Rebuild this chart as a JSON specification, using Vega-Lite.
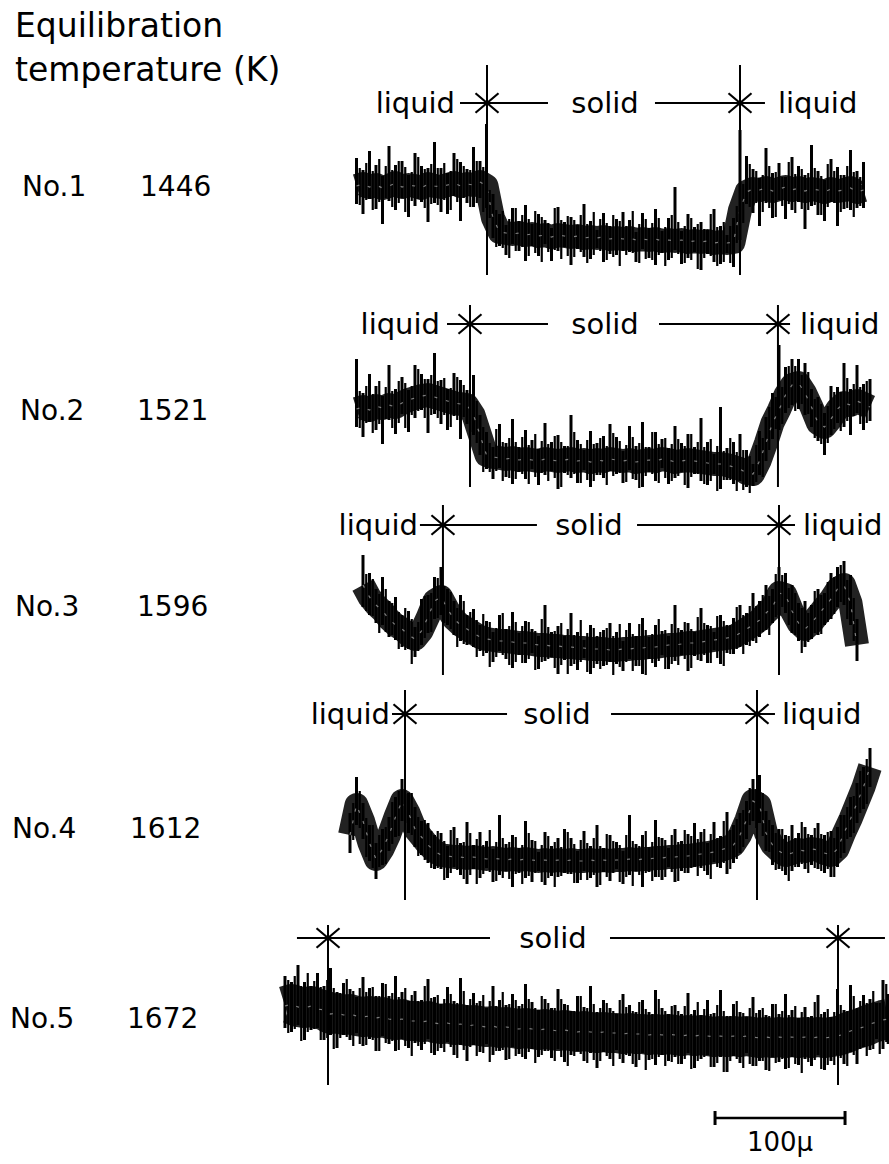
{
  "$schema": "https://vega.github.io/schema/vega-lite/v6.json",
  "background": "white",
  "padding": 0,
  "spacing": 0,
  "bounds": "flush",
  "config": {
    "view": {"stroke": null},
    "axis": {"disable": true},
    "text": {"font": "DejaVu Sans", "color": "#000"}
  },
  "datasets": {
    "samples": [
      {"sample": "No.1", "temp": 1446, "left": 155.4, "right": 350.0},
      {"sample": "No.2", "temp": 1521, "left": 142.3, "right": 379.2},
      {"sample": "No.3", "temp": 1596, "left": 121.5, "right": 380.0},
      {"sample": "No.4", "temp": 1612, "left": 92.3, "right": 363.1},
      {"sample": "No.5", "temp": 1672, "left": 33.1, "right": 425.4}
    ],
    "t1": [
      {"pos":55,"mid":104,"lo":86,"hi":132},{"pos":60,"mid":106,"lo":76,"hi":120},{"pos":65,"mid":103,"lo":91,"hi":139},{"pos":70,"mid":105,"lo":81,"hi":125},
      {"pos":75,"mid":102,"lo":66,"hi":114},{"pos":80,"mid":104,"lo":89,"hi":144},{"pos":85,"mid":107,"lo":80,"hi":125},{"pos":90,"mid":103,"lo":92,"hi":129},
      {"pos":95,"mid":105,"lo":73,"hi":115},{"pos":100,"mid":104,"lo":84,"hi":137},{"pos":105,"mid":102,"lo":88,"hi":124},{"pos":110,"mid":106,"lo":68,"hi":122},
      {"pos":115,"mid":104,"lo":87,"hi":148},{"pos":120,"mid":103,"lo":78,"hi":122},{"pos":125,"mid":105,"lo":76,"hi":117},{"pos":130,"mid":107,"lo":94,"hi":137},
      {"pos":135,"mid":104,"lo":69,"hi":128},{"pos":140,"mid":106,"lo":87,"hi":121},{"pos":145,"mid":105,"lo":83,"hi":143},{"pos":150,"mid":108,"lo":92,"hi":129},
      {"pos":155,"mid":104,"lo":82,"hi":166},{"pos":160,"mid":72,"lo":52,"hi":96},{"pos":165,"mid":58,"lo":44,"hi":76},{"pos":170,"mid":57,"lo":35,"hi":65},
      {"pos":175,"mid":56,"lo":46,"hi":82},{"pos":180,"mid":57,"lo":39,"hi":69},{"pos":185,"mid":55,"lo":29,"hi":85},{"pos":190,"mid":56,"lo":44,"hi":66},
      {"pos":195,"mid":54,"lo":34,"hi":76},{"pos":200,"mid":55,"lo":46,"hi":70},{"pos":205,"mid":53,"lo":29,"hi":62},{"pos":210,"mid":55,"lo":39,"hi":83},
      {"pos":215,"mid":54,"lo":43,"hi":68},{"pos":220,"mid":53,"lo":25,"hi":73},{"pos":225,"mid":54,"lo":41,"hi":65},{"pos":230,"mid":52,"lo":33,"hi":86},
      {"pos":235,"mid":53,"lo":31,"hi":69},{"pos":240,"mid":52,"lo":42,"hi":60},{"pos":245,"mid":53,"lo":28,"hi":77},{"pos":250,"mid":51,"lo":36,"hi":64},
      {"pos":255,"mid":52,"lo":35,"hi":71},{"pos":260,"mid":51,"lo":39,"hi":78},{"pos":265,"mid":52,"lo":38,"hi":70},{"pos":270,"mid":50,"lo":28,"hi":58},
      {"pos":275,"mid":51,"lo":41,"hi":77},{"pos":280,"mid":50,"lo":32,"hi":62},{"pos":285,"mid":51,"lo":25,"hi":81},{"pos":290,"mid":49,"lo":37,"hi":59},
      {"pos":295,"mid":50,"lo":30,"hi":72},{"pos":300,"mid":49,"lo":40,"hi":103},{"pos":305,"mid":50,"lo":26,"hi":59},{"pos":310,"mid":48,"lo":32,"hi":76},
      {"pos":315,"mid":49,"lo":38,"hi":63},{"pos":320,"mid":48,"lo":20,"hi":68},{"pos":325,"mid":49,"lo":36,"hi":60},{"pos":330,"mid":47,"lo":28,"hi":81},
      {"pos":335,"mid":48,"lo":26,"hi":64},{"pos":340,"mid":47,"lo":37,"hi":55},{"pos":345,"mid":48,"lo":23,"hi":72},{"pos":350,"mid":80,"lo":50,"hi":160},
      {"pos":355,"mid":98,"lo":86,"hi":134},{"pos":360,"mid":101,"lo":77,"hi":121},{"pos":365,"mid":100,"lo":64,"hi":112},{"pos":370,"mid":102,"lo":87,"hi":142},
      {"pos":375,"mid":99,"lo":72,"hi":117},{"pos":380,"mid":101,"lo":90,"hi":127},{"pos":385,"mid":103,"lo":71,"hi":113},{"pos":390,"mid":100,"lo":80,"hi":133},
      {"pos":395,"mid":102,"lo":88,"hi":124},{"pos":400,"mid":99,"lo":61,"hi":115},{"pos":405,"mid":101,"lo":84,"hi":145},{"pos":410,"mid":100,"lo":75,"hi":119},
      {"pos":415,"mid":98,"lo":69,"hi":110},{"pos":420,"mid":101,"lo":88,"hi":131},{"pos":425,"mid":99,"lo":64,"hi":123},{"pos":430,"mid":100,"lo":81,"hi":115},
      {"pos":435,"mid":102,"lo":80,"hi":140},{"pos":440,"mid":98,"lo":82,"hi":119},{"pos":445,"mid":100,"lo":82,"hi":128}
    ],
    "f1": [
      {"pos":57.5,"lo":85,"hi":122},{"pos":62.5,"lo":90,"hi":127},{"pos":67.5,"lo":80,"hi":119},{"pos":72.5,"lo":88,"hi":131},{"pos":77.5,"lo":92,"hi":124},
      {"pos":82.5,"lo":83,"hi":120},{"pos":87.5,"lo":87,"hi":129},{"pos":92.5,"lo":78,"hi":123},{"pos":97.5,"lo":89,"hi":118},{"pos":102.5,"lo":91,"hi":133},
      {"pos":107.5,"lo":82,"hi":121},{"pos":112.5,"lo":86,"hi":126},{"pos":117.5,"lo":85,"hi":122},{"pos":122.5,"lo":90,"hi":127},{"pos":127.5,"lo":80,"hi":119},
      {"pos":132.5,"lo":88,"hi":131},{"pos":137.5,"lo":92,"hi":124},{"pos":142.5,"lo":83,"hi":120},{"pos":147.5,"lo":87,"hi":129},{"pos":152.5,"lo":78,"hi":123},
      {"pos":157.5,"lo":72,"hi":100},{"pos":162.5,"lo":43,"hi":80},{"pos":167.5,"lo":42,"hi":79},{"pos":172.5,"lo":32,"hi":71},{"pos":177.5,"lo":39,"hi":82},
      {"pos":182.5,"lo":43,"hi":75},{"pos":187.5,"lo":34,"hi":71},{"pos":192.5,"lo":37,"hi":79},{"pos":197.5,"lo":28,"hi":73},{"pos":202.5,"lo":38,"hi":67},
      {"pos":207.5,"lo":40,"hi":82},{"pos":212.5,"lo":31,"hi":70},{"pos":217.5,"lo":34,"hi":74},{"pos":222.5,"lo":33,"hi":70},{"pos":227.5,"lo":38,"hi":75},
      {"pos":232.5,"lo":27,"hi":66},{"pos":237.5,"lo":35,"hi":78},{"pos":242.5,"lo":39,"hi":71},{"pos":247.5,"lo":30,"hi":67},{"pos":252.5,"lo":33,"hi":75},
      {"pos":257.5,"lo":24,"hi":69},{"pos":262.5,"lo":35,"hi":64},{"pos":267.5,"lo":37,"hi":79},{"pos":272.5,"lo":27,"hi":66},{"pos":277.5,"lo":31,"hi":71},
      {"pos":282.5,"lo":30,"hi":67},{"pos":287.5,"lo":35,"hi":72},{"pos":292.5,"lo":24,"hi":63},{"pos":297.5,"lo":32,"hi":75},{"pos":302.5,"lo":36,"hi":68},
      {"pos":307.5,"lo":27,"hi":64},{"pos":312.5,"lo":30,"hi":72},{"pos":317.5,"lo":21,"hi":66},{"pos":322.5,"lo":32,"hi":61},{"pos":327.5,"lo":34,"hi":76},
      {"pos":332.5,"lo":24,"hi":63},{"pos":337.5,"lo":28,"hi":68},{"pos":342.5,"lo":27,"hi":64},{"pos":347.5,"lo":47,"hi":84},{"pos":352.5,"lo":67,"hi":106},
      {"pos":357.5,"lo":83,"hi":126},{"pos":362.5,"lo":87,"hi":119},{"pos":367.5,"lo":78,"hi":115},{"pos":372.5,"lo":82,"hi":124},{"pos":377.5,"lo":73,"hi":118},
      {"pos":382.5,"lo":84,"hi":113},{"pos":387.5,"lo":86,"hi":128},{"pos":392.5,"lo":77,"hi":116},{"pos":397.5,"lo":81,"hi":121},{"pos":402.5,"lo":80,"hi":117},
      {"pos":407.5,"lo":85,"hi":122},{"pos":412.5,"lo":75,"hi":114},{"pos":417.5,"lo":83,"hi":126},{"pos":422.5,"lo":87,"hi":119},{"pos":427.5,"lo":78,"hi":115},
      {"pos":432.5,"lo":82,"hi":124},{"pos":437.5,"lo":73,"hi":118},{"pos":442.5,"lo":84,"hi":113}
    ],
    "t2": [
      {"pos":55,"mid":86,"lo":68,"hi":136},{"pos":60,"mid":88,"lo":58,"hi":102},{"pos":65,"mid":85,"lo":73,"hi":121},{"pos":70,"mid":89,"lo":65,"hi":109},
      {"pos":75,"mid":87,"lo":51,"hi":99},{"pos":80,"mid":90,"lo":75,"hi":130},{"pos":85,"mid":88,"lo":61,"hi":106},{"pos":90,"mid":92,"lo":81,"hi":118},
      {"pos":95,"mid":95,"lo":63,"hi":105},{"pos":100,"mid":97,"lo":77,"hi":130},{"pos":105,"mid":99,"lo":85,"hi":121},{"pos":110,"mid":100,"lo":62,"hi":116},
      {"pos":115,"mid":98,"lo":81,"hi":142},{"pos":120,"mid":96,"lo":71,"hi":115},{"pos":125,"mid":94,"lo":65,"hi":106},{"pos":130,"mid":92,"lo":79,"hi":122},
      {"pos":135,"mid":91,"lo":56,"hi":115},{"pos":140,"mid":90,"lo":71,"hi":105},{"pos":145,"mid":80,"lo":60,"hi":120},{"pos":150,"mid":60,"lo":40,"hi":80},
      {"pos":155,"mid":40,"lo":26,"hi":63},{"pos":160,"mid":38,"lo":16,"hi":48},{"pos":165,"mid":37,"lo":27,"hi":71},{"pos":170,"mid":36,"lo":18,"hi":52},
      {"pos":175,"mid":37,"lo":11,"hi":76},{"pos":180,"mid":35,"lo":23,"hi":48},{"pos":185,"mid":36,"lo":16,"hi":65},{"pos":190,"mid":35,"lo":26,"hi":55},
      {"pos":195,"mid":34,"lo":10,"hi":46},{"pos":200,"mid":36,"lo":20,"hi":72},{"pos":205,"mid":35,"lo":24,"hi":53},{"pos":210,"mid":34,"lo":6,"hi":60},
      {"pos":215,"mid":35,"lo":22,"hi":49},{"pos":220,"mid":36,"lo":17,"hi":80},{"pos":225,"mid":34,"lo":12,"hi":55},{"pos":230,"mid":35,"lo":25,"hi":45},
      {"pos":235,"mid":33,"lo":8,"hi":64},{"pos":240,"mid":35,"lo":20,"hi":52},{"pos":245,"mid":34,"lo":17,"hi":59},{"pos":250,"mid":36,"lo":24,"hi":71},
      {"pos":255,"mid":35,"lo":21,"hi":58},{"pos":260,"mid":34,"lo":12,"hi":44},{"pos":265,"mid":35,"lo":25,"hi":69},{"pos":270,"mid":33,"lo":15,"hi":49},
      {"pos":275,"mid":34,"lo":8,"hi":73},{"pos":280,"mid":35,"lo":23,"hi":48},{"pos":285,"mid":34,"lo":14,"hi":63},{"pos":290,"mid":36,"lo":27,"hi":56},
      {"pos":295,"mid":35,"lo":11,"hi":47},{"pos":300,"mid":33,"lo":17,"hi":69},{"pos":305,"mid":34,"lo":23,"hi":52},{"pos":310,"mid":35,"lo":7,"hi":61},
      {"pos":315,"mid":34,"lo":21,"hi":48},{"pos":320,"mid":33,"lo":14,"hi":77},{"pos":325,"mid":32,"lo":10,"hi":53},{"pos":330,"mid":31,"lo":21,"hi":41},
      {"pos":335,"mid":31,"lo":6,"hi":88},{"pos":340,"mid":30,"lo":15,"hi":47},{"pos":345,"mid":28,"lo":11,"hi":53},{"pos":350,"mid":26,"lo":14,"hi":61},
      {"pos":355,"mid":22,"lo":8,"hi":45},{"pos":360,"mid":21,"lo":9,"hi":31},{"pos":365,"mid":34,"lo":20,"hi":64},{"pos":370,"mid":52,"lo":34,"hi":78},
      {"pos":375,"mid":72,"lo":56,"hi":102},{"pos":380,"mid":85,"lo":65,"hi":150},{"pos":385,"mid":100,"lo":82,"hi":128},{"pos":390,"mid":110,"lo":90,"hi":136},
      {"pos":395,"mid":112,"lo":86,"hi":136},{"pos":400,"mid":102,"lo":80,"hi":132},{"pos":405,"mid":88,"lo":68,"hi":106},{"pos":410,"mid":72,"lo":54,"hi":98},
      {"pos":415,"mid":68,"lo":40,"hi":82},{"pos":420,"mid":76,"lo":60,"hi":109},{"pos":425,"mid":86,"lo":72,"hi":108},{"pos":430,"mid":92,"lo":68,"hi":132},
      {"pos":435,"mid":90,"lo":60,"hi":106},{"pos":440,"mid":94,"lo":82,"hi":130},{"pos":445,"mid":91,"lo":65,"hi":111},{"pos":450,"mid":88,"lo":74,"hi":116}
    ],
    "f2": [
      {"pos":57.5,"lo":67,"hi":104},{"pos":62.5,"lo":72,"hi":109},{"pos":67.5,"lo":62,"hi":101},{"pos":72.5,"lo":71,"hi":114},{"pos":77.5,"lo":76,"hi":108},
      {"pos":82.5,"lo":67,"hi":104},{"pos":87.5,"lo":72,"hi":114},{"pos":92.5,"lo":67,"hi":112},{"pos":97.5,"lo":80,"hi":109},{"pos":102.5,"lo":84,"hi":126},
      {"pos":107.5,"lo":77,"hi":116},{"pos":112.5,"lo":80,"hi":120},{"pos":117.5,"lo":77,"hi":114},{"pos":122.5,"lo":80,"hi":117},{"pos":127.5,"lo":68,"hi":107},
      {"pos":132.5,"lo":75,"hi":118},{"pos":137.5,"lo":78,"hi":110},{"pos":142.5,"lo":63,"hi":100},{"pos":147.5,"lo":52,"hi":94},{"pos":152.5,"lo":23,"hi":68},
      {"pos":157.5,"lo":23,"hi":52},{"pos":162.5,"lo":24,"hi":66},{"pos":167.5,"lo":14,"hi":53},{"pos":172.5,"lo":17,"hi":57},{"pos":177.5,"lo":16,"hi":53},
      {"pos":182.5,"lo":21,"hi":58},{"pos":187.5,"lo":11,"hi":50},{"pos":192.5,"lo":18,"hi":61},{"pos":197.5,"lo":22,"hi":54},{"pos":202.5,"lo":14,"hi":51},
      {"pos":207.5,"lo":17,"hi":59},{"pos":212.5,"lo":8,"hi":53},{"pos":217.5,"lo":20,"hi":49},{"pos":222.5,"lo":21,"hi":63},{"pos":227.5,"lo":12,"hi":51},
      {"pos":232.5,"lo":15,"hi":55},{"pos":237.5,"lo":14,"hi":51},{"pos":242.5,"lo":20,"hi":57},{"pos":247.5,"lo":10,"hi":49},{"pos":252.5,"lo":19,"hi":62},
      {"pos":257.5,"lo":22,"hi":54},{"pos":262.5,"lo":13,"hi":50},{"pos":267.5,"lo":16,"hi":58},{"pos":272.5,"lo":7,"hi":52},{"pos":277.5,"lo":19,"hi":48},
      {"pos":282.5,"lo":21,"hi":63},{"pos":287.5,"lo":12,"hi":51},{"pos":292.5,"lo":17,"hi":57},{"pos":297.5,"lo":14,"hi":51},{"pos":302.5,"lo":19,"hi":56},
      {"pos":307.5,"lo":10,"hi":49},{"pos":312.5,"lo":18,"hi":61},{"pos":317.5,"lo":21,"hi":53},{"pos":322.5,"lo":11,"hi":48},{"pos":327.5,"lo":14,"hi":56},
      {"pos":332.5,"lo":4,"hi":49},{"pos":337.5,"lo":15,"hi":44},{"pos":342.5,"lo":15,"hi":57},{"pos":347.5,"lo":4,"hi":43},{"pos":352.5,"lo":5,"hi":45},
      {"pos":357.5,"lo":2,"hi":39},{"pos":362.5,"lo":13,"hi":50},{"pos":367.5,"lo":18,"hi":57},{"pos":372.5,"lo":45,"hi":88},{"pos":377.5,"lo":66,"hi":98},
      {"pos":382.5,"lo":71,"hi":108},{"pos":387.5,"lo":87,"hi":129},{"pos":392.5,"lo":84,"hi":129},{"pos":397.5,"lo":91,"hi":120},{"pos":402.5,"lo":81,"hi":123},
      {"pos":407.5,"lo":57,"hi":96},{"pos":412.5,"lo":51,"hi":91},{"pos":417.5,"lo":52,"hi":89},{"pos":422.5,"lo":66,"hi":103},{"pos":427.5,"lo":64,"hi":103},
      {"pos":432.5,"lo":74,"hi":117},{"pos":437.5,"lo":79,"hi":111},{"pos":442.5,"lo":71,"hi":108},{"pos":447.5,"lo":72,"hi":114}
    ],
    "t3": [
      {"pos":60,"mid":100,"lo":78,"hi":130},{"pos":65,"mid":88,"lo":70,"hi":112},{"pos":70,"mid":80,"lo":62,"hi":96},{"pos":75,"mid":74,"lo":60,"hi":108},
      {"pos":80,"mid":66,"lo":48,"hi":84},{"pos":85,"mid":60,"lo":45,"hi":88},{"pos":90,"mid":56,"lo":38,"hi":70},{"pos":95,"mid":50,"lo":36,"hi":74},
      {"pos":100,"mid":46,"lo":28,"hi":58},{"pos":105,"mid":54,"lo":40,"hi":86},{"pos":110,"mid":68,"lo":52,"hi":90},{"pos":115,"mid":84,"lo":66,"hi":108},
      {"pos":120,"mid":88,"lo":70,"hi":118},{"pos":125,"mid":76,"lo":60,"hi":96},{"pos":130,"mid":66,"lo":50,"hi":84},{"pos":135,"mid":60,"lo":44,"hi":90},
      {"pos":140,"mid":56,"lo":40,"hi":70},{"pos":145,"mid":52,"lo":38,"hi":76},{"pos":150,"mid":48,"lo":34,"hi":60},{"pos":155,"mid":46,"lo":32,"hi":64},
      {"pos":160,"mid":45,"lo":23,"hi":53},{"pos":165,"mid":44,"lo":34,"hi":70},{"pos":170,"mid":44,"lo":26,"hi":56},{"pos":175,"mid":43,"lo":17,"hi":73},
      {"pos":180,"mid":42,"lo":30,"hi":52},{"pos":185,"mid":42,"lo":22,"hi":64},{"pos":190,"mid":41,"lo":32,"hi":56},{"pos":195,"mid":40,"lo":16,"hi":49},
      {"pos":200,"mid":40,"lo":24,"hi":80},{"pos":205,"mid":39,"lo":28,"hi":53},{"pos":210,"mid":39,"lo":11,"hi":59},{"pos":215,"mid":38,"lo":25,"hi":49},
      {"pos":220,"mid":38,"lo":19,"hi":72},{"pos":225,"mid":37,"lo":15,"hi":53},{"pos":230,"mid":37,"lo":27,"hi":45},{"pos":235,"mid":36,"lo":11,"hi":60},
      {"pos":240,"mid":36,"lo":21,"hi":49},{"pos":245,"mid":36,"lo":19,"hi":55},{"pos":250,"mid":35,"lo":23,"hi":62},{"pos":255,"mid":35,"lo":21,"hi":53},
      {"pos":260,"mid":36,"lo":14,"hi":44},{"pos":265,"mid":36,"lo":26,"hi":62},{"pos":270,"mid":37,"lo":19,"hi":49},{"pos":275,"mid":37,"lo":11,"hi":67},
      {"pos":280,"mid":38,"lo":26,"hi":48},{"pos":285,"mid":38,"lo":18,"hi":60},{"pos":290,"mid":39,"lo":30,"hi":54},{"pos":295,"mid":40,"lo":16,"hi":49},
      {"pos":300,"mid":40,"lo":24,"hi":80},{"pos":305,"mid":41,"lo":30,"hi":55},{"pos":310,"mid":42,"lo":14,"hi":62},{"pos":315,"mid":42,"lo":29,"hi":53},
      {"pos":320,"mid":43,"lo":24,"hi":77},{"pos":325,"mid":44,"lo":22,"hi":60},{"pos":330,"mid":45,"lo":35,"hi":53},{"pos":335,"mid":46,"lo":21,"hi":70},
      {"pos":340,"mid":47,"lo":32,"hi":60},{"pos":345,"mid":48,"lo":31,"hi":67},{"pos":350,"mid":52,"lo":38,"hi":80},{"pos":355,"mid":56,"lo":40,"hi":72},
      {"pos":360,"mid":60,"lo":44,"hi":92},{"pos":365,"mid":65,"lo":48,"hi":84},{"pos":370,"mid":72,"lo":55,"hi":100},{"pos":375,"mid":78,"lo":62,"hi":96},
      {"pos":380,"mid":92,"lo":70,"hi":118},{"pos":385,"mid":90,"lo":72,"hi":112},{"pos":390,"mid":74,"lo":52,"hi":100},{"pos":395,"mid":62,"lo":44,"hi":82},
      {"pos":400,"mid":56,"lo":38,"hi":84},{"pos":405,"mid":62,"lo":46,"hi":80},{"pos":410,"mid":70,"lo":50,"hi":96},{"pos":415,"mid":78,"lo":60,"hi":92},
      {"pos":420,"mid":86,"lo":66,"hi":112},{"pos":425,"mid":96,"lo":78,"hi":118},{"pos":430,"mid":100,"lo":80,"hi":124},{"pos":435,"mid":82,"lo":60,"hi":110},
      {"pos":440,"mid":40,"lo":24,"hi":66}
    ],
    "f3": [
      {"pos":62.5,"lo":74,"hi":111},{"pos":67.5,"lo":69,"hi":106},{"pos":72.5,"lo":52,"hi":91},{"pos":77.5,"lo":53,"hi":96},{"pos":82.5,"lo":50,"hi":82},
      {"pos":87.5,"lo":36,"hi":73},{"pos":92.5,"lo":35,"hi":77},{"pos":97.5,"lo":21,"hi":66},{"pos":102.5,"lo":34,"hi":63},{"pos":107.5,"lo":47,"hi":89},
      {"pos":112.5,"lo":53,"hi":92},{"pos":117.5,"lo":67,"hi":107},{"pos":122.5,"lo":62,"hi":99},{"pos":127.5,"lo":56,"hi":93},{"pos":132.5,"lo":38,"hi":77},
      {"pos":137.5,"lo":41,"hi":84},{"pos":142.5,"lo":41,"hi":73},{"pos":147.5,"lo":28,"hi":65},{"pos":152.5,"lo":29,"hi":71},{"pos":157.5,"lo":18,"hi":63},
      {"pos":162.5,"lo":28,"hi":57},{"pos":167.5,"lo":30,"hi":72},{"pos":172.5,"lo":20,"hi":59},{"pos":177.5,"lo":23,"hi":63},{"pos":182.5,"lo":22,"hi":59},
      {"pos":187.5,"lo":26,"hi":63},{"pos":192.5,"lo":15,"hi":54},{"pos":197.5,"lo":23,"hi":66},{"pos":202.5,"lo":26,"hi":58},{"pos":207.5,"lo":17,"hi":54},
      {"pos":212.5,"lo":20,"hi":62},{"pos":217.5,"lo":11,"hi":56},{"pos":222.5,"lo":21,"hi":50},{"pos":227.5,"lo":23,"hi":65},{"pos":232.5,"lo":13,"hi":52},
      {"pos":237.5,"lo":17,"hi":57},{"pos":242.5,"lo":16,"hi":53},{"pos":247.5,"lo":20,"hi":57},{"pos":252.5,"lo":10,"hi":49},{"pos":257.5,"lo":18,"hi":61},
      {"pos":262.5,"lo":23,"hi":55},{"pos":267.5,"lo":14,"hi":51},{"pos":272.5,"lo":19,"hi":61},{"pos":277.5,"lo":10,"hi":55},{"pos":282.5,"lo":22,"hi":51},
      {"pos":287.5,"lo":24,"hi":66},{"pos":292.5,"lo":16,"hi":55},{"pos":297.5,"lo":21,"hi":61},{"pos":302.5,"lo":20,"hi":57},{"pos":307.5,"lo":26,"hi":63},
      {"pos":312.5,"lo":17,"hi":56},{"pos":317.5,"lo":25,"hi":68},{"pos":322.5,"lo":30,"hi":62},{"pos":327.5,"lo":22,"hi":59},{"pos":332.5,"lo":27,"hi":69},
      {"pos":337.5,"lo":19,"hi":64},{"pos":342.5,"lo":31,"hi":60},{"pos":347.5,"lo":36,"hi":78},{"pos":352.5,"lo":31,"hi":70},{"pos":357.5,"lo":39,"hi":79},
      {"pos":362.5,"lo":42,"hi":79},{"pos":367.5,"lo":53,"hi":90},{"pos":372.5,"lo":50,"hi":89},{"pos":377.5,"lo":68,"hi":111},{"pos":382.5,"lo":78,"hi":110},
      {"pos":387.5,"lo":60,"hi":97},{"pos":392.5,"lo":50,"hi":92},{"pos":397.5,"lo":32,"hi":77},{"pos":402.5,"lo":43,"hi":72},{"pos":407.5,"lo":52,"hi":94},
      {"pos":412.5,"lo":51,"hi":90},{"pos":417.5,"lo":63,"hi":103},{"pos":422.5,"lo":71,"hi":108},{"pos":427.5,"lo":83,"hi":120},{"pos":432.5,"lo":66,"hi":105},
      {"pos":437.5,"lo":44,"hi":87}
    ],
    "t4": [
      {"pos":50,"mid":70,"lo":52,"hi":92},{"pos":55,"mid":100,"lo":80,"hi":128},{"pos":60,"mid":84,"lo":66,"hi":102},{"pos":65,"mid":62,"lo":44,"hi":80},
      {"pos":70,"mid":46,"lo":26,"hi":62},{"pos":75,"mid":56,"lo":40,"hi":76},{"pos":80,"mid":70,"lo":54,"hi":88},{"pos":85,"mid":88,"lo":68,"hi":108},
      {"pos":90,"mid":104,"lo":84,"hi":126},{"pos":95,"mid":92,"lo":72,"hi":112},{"pos":100,"mid":76,"lo":58,"hi":98},{"pos":105,"mid":68,"lo":50,"hi":84},
      {"pos":110,"mid":60,"lo":42,"hi":82},{"pos":115,"mid":54,"lo":36,"hi":70},{"pos":120,"mid":50,"lo":36,"hi":72},{"pos":125,"mid":49,"lo":27,"hi":59},
      {"pos":130,"mid":48,"lo":38,"hi":78},{"pos":135,"mid":48,"lo":30,"hi":62},{"pos":140,"mid":47,"lo":21,"hi":83},{"pos":145,"mid":48,"lo":36,"hi":60},
      {"pos":150,"mid":47,"lo":27,"hi":73},{"pos":155,"mid":46,"lo":37,"hi":64},{"pos":160,"mid":47,"lo":23,"hi":56},{"pos":165,"mid":46,"lo":30,"hi":90},
      {"pos":170,"mid":45,"lo":34,"hi":61},{"pos":175,"mid":46,"lo":18,"hi":70},{"pos":180,"mid":45,"lo":32,"hi":57},{"pos":185,"mid":46,"lo":27,"hi":84},
      {"pos":190,"mid":45,"lo":23,"hi":65},{"pos":195,"mid":44,"lo":34,"hi":53},{"pos":200,"mid":45,"lo":20,"hi":73},{"pos":205,"mid":44,"lo":29,"hi":59},
      {"pos":210,"mid":45,"lo":28,"hi":67},{"pos":215,"mid":44,"lo":32,"hi":76},{"pos":220,"mid":45,"lo":31,"hi":67},{"pos":225,"mid":44,"lo":22,"hi":54},
      {"pos":230,"mid":44,"lo":34,"hi":74},{"pos":235,"mid":45,"lo":27,"hi":59},{"pos":240,"mid":44,"lo":18,"hi":80},{"pos":245,"mid":45,"lo":33,"hi":57},
      {"pos":250,"mid":44,"lo":24,"hi":70},{"pos":255,"mid":45,"lo":36,"hi":63},{"pos":260,"mid":45,"lo":21,"hi":54},{"pos":265,"mid":46,"lo":30,"hi":90},
      {"pos":270,"mid":45,"lo":34,"hi":61},{"pos":275,"mid":46,"lo":18,"hi":70},{"pos":280,"mid":46,"lo":33,"hi":58},{"pos":285,"mid":47,"lo":28,"hi":85},
      {"pos":290,"mid":47,"lo":25,"hi":67},{"pos":295,"mid":48,"lo":38,"hi":57},{"pos":300,"mid":48,"lo":23,"hi":76},{"pos":305,"mid":49,"lo":34,"hi":64},
      {"pos":310,"mid":49,"lo":32,"hi":71},{"pos":315,"mid":50,"lo":38,"hi":82},{"pos":320,"mid":51,"lo":37,"hi":73},{"pos":325,"mid":52,"lo":30,"hi":62},
      {"pos":330,"mid":53,"lo":43,"hi":83},{"pos":335,"mid":55,"lo":37,"hi":69},{"pos":340,"mid":57,"lo":31,"hi":93},{"pos":345,"mid":60,"lo":42,"hi":80},
      {"pos":350,"mid":70,"lo":52,"hi":92},{"pos":355,"mid":85,"lo":66,"hi":104},{"pos":360,"mid":104,"lo":84,"hi":126},{"pos":365,"mid":100,"lo":82,"hi":130},
      {"pos":370,"mid":72,"lo":54,"hi":94},{"pos":375,"mid":60,"lo":40,"hi":80},{"pos":380,"mid":54,"lo":36,"hi":76},{"pos":385,"mid":50,"lo":30,"hi":70},
      {"pos":390,"mid":52,"lo":34,"hi":80},{"pos":395,"mid":55,"lo":38,"hi":72},{"pos":400,"mid":54,"lo":36,"hi":78},{"pos":405,"mid":56,"lo":40,"hi":70},
      {"pos":410,"mid":55,"lo":36,"hi":82},{"pos":415,"mid":52,"lo":32,"hi":70},{"pos":420,"mid":50,"lo":28,"hi":74},{"pos":425,"mid":56,"lo":38,"hi":78},
      {"pos":430,"mid":72,"lo":52,"hi":90},{"pos":435,"mid":86,"lo":68,"hi":108},{"pos":440,"mid":102,"lo":82,"hi":122},{"pos":445,"mid":118,"lo":96,"hi":138},
      {"pos":450,"mid":138,"lo":118,"hi":157}
    ],
    "f4": [
      {"pos":52.5,"lo":65,"hi":102},{"pos":57.5,"lo":77,"hi":114},{"pos":62.5,"lo":48,"hi":87},{"pos":67.5,"lo":37,"hi":80},{"pos":72.5,"lo":38,"hi":70},
      {"pos":77.5,"lo":41,"hi":78},{"pos":82.5,"lo":61,"hi":103},{"pos":87.5,"lo":69,"hi":114},{"pos":92.5,"lo":82,"hi":111},{"pos":97.5,"lo":70,"hi":112},
      {"pos":102.5,"lo":49,"hi":88},{"pos":107.5,"lo":45,"hi":85},{"pos":112.5,"lo":37,"hi":74},{"pos":117.5,"lo":37,"hi":74},{"pos":122.5,"lo":25,"hi":64},
      {"pos":127.5,"lo":32,"hi":75},{"pos":132.5,"lo":35,"hi":67},{"pos":137.5,"lo":26,"hi":63},{"pos":142.5,"lo":30,"hi":72},{"pos":147.5,"lo":21,"hi":66},
      {"pos":152.5,"lo":31,"hi":60},{"pos":157.5,"lo":33,"hi":75},{"pos":162.5,"lo":24,"hi":63},{"pos":167.5,"lo":27,"hi":67},{"pos":172.5,"lo":26,"hi":63},
      {"pos":177.5,"lo":31,"hi":68},{"pos":182.5,"lo":21,"hi":60},{"pos":187.5,"lo":29,"hi":72},{"pos":192.5,"lo":32,"hi":64},{"pos":197.5,"lo":23,"hi":60},
      {"pos":202.5,"lo":27,"hi":69},{"pos":207.5,"lo":18,"hi":63},{"pos":212.5,"lo":29,"hi":58},{"pos":217.5,"lo":31,"hi":73},{"pos":222.5,"lo":22,"hi":61},
      {"pos":227.5,"lo":25,"hi":65},{"pos":232.5,"lo":25,"hi":62},{"pos":237.5,"lo":30,"hi":67},{"pos":242.5,"lo":20,"hi":59},{"pos":247.5,"lo":28,"hi":71},
      {"pos":252.5,"lo":32,"hi":64},{"pos":257.5,"lo":23,"hi":60},{"pos":262.5,"lo":28,"hi":70},{"pos":267.5,"lo":19,"hi":64},{"pos":272.5,"lo":30,"hi":59},
      {"pos":277.5,"lo":32,"hi":74},{"pos":282.5,"lo":24,"hi":63},{"pos":287.5,"lo":28,"hi":68},{"pos":292.5,"lo":28,"hi":65},{"pos":297.5,"lo":33,"hi":70},
      {"pos":302.5,"lo":24,"hi":63},{"pos":307.5,"lo":32,"hi":75},{"pos":312.5,"lo":37,"hi":69},{"pos":317.5,"lo":29,"hi":66},{"pos":322.5,"lo":34,"hi":76},
      {"pos":327.5,"lo":26,"hi":71},{"pos":332.5,"lo":38,"hi":67},{"pos":337.5,"lo":42,"hi":84},{"pos":342.5,"lo":36,"hi":75},{"pos":347.5,"lo":46,"hi":86},
      {"pos":352.5,"lo":58,"hi":95},{"pos":357.5,"lo":80,"hi":117},{"pos":362.5,"lo":77,"hi":116},{"pos":367.5,"lo":69,"hi":112},{"pos":372.5,"lo":53,"hi":85},
      {"pos":377.5,"lo":35,"hi":72},{"pos":382.5,"lo":34,"hi":76},{"pos":387.5,"lo":24,"hi":69},{"pos":392.5,"lo":38,"hi":67},{"pos":397.5,"lo":41,"hi":83},
      {"pos":402.5,"lo":32,"hi":71},{"pos":407.5,"lo":37,"hi":77},{"pos":412.5,"lo":34,"hi":71},{"pos":417.5,"lo":36,"hi":73},{"pos":422.5,"lo":28,"hi":67},
      {"pos":427.5,"lo":47,"hi":90},{"pos":432.5,"lo":66,"hi":98},{"pos":437.5,"lo":72,"hi":109},{"pos":442.5,"lo":92,"hi":134},{"pos":447.5,"lo":101,"hi":146}
    ],
    "t5": [
      {"pos":0,"mid":158,"lo":136,"hi":188},{"pos":5,"mid":160,"lo":132,"hi":182},{"pos":10,"mid":157,"lo":139,"hi":199},{"pos":15,"mid":156,"lo":124,"hi":182},
      {"pos":20,"mid":158,"lo":134,"hi":178},{"pos":25,"mid":155,"lo":136,"hi":191},{"pos":30,"mid":154,"lo":124,"hi":178},{"pos":35,"mid":150,"lo":129,"hi":196},
      {"pos":40,"mid":151,"lo":116,"hi":172},{"pos":45,"mid":149,"lo":129,"hi":181},{"pos":50,"mid":150,"lo":124,"hi":175},{"pos":55,"mid":148,"lo":131,"hi":167},
      {"pos":60,"mid":147,"lo":118,"hi":187},{"pos":65,"mid":148,"lo":125,"hi":176},{"pos":70,"mid":146,"lo":113,"hi":168},{"pos":75,"mid":147,"lo":128,"hi":181},
      {"pos":80,"mid":145,"lo":120,"hi":168},{"pos":85,"mid":144,"lo":113,"hi":188},{"pos":90,"mid":145,"lo":125,"hi":172},{"pos":95,"mid":143,"lo":116,"hi":163},
      {"pos":100,"mid":143,"lo":121,"hi":173},{"pos":105,"mid":142,"lo":114,"hi":164},{"pos":110,"mid":143,"lo":125,"hi":185},{"pos":115,"mid":141,"lo":109,"hi":167},
      {"pos":120,"mid":140,"lo":116,"hi":160},{"pos":125,"mid":141,"lo":122,"hi":177},{"pos":130,"mid":139,"lo":109,"hi":163},{"pos":135,"mid":140,"lo":119,"hi":186},
      {"pos":140,"mid":138,"lo":103,"hi":159},{"pos":145,"mid":139,"lo":119,"hi":171},{"pos":150,"mid":138,"lo":112,"hi":163},{"pos":155,"mid":137,"lo":120,"hi":156},
      {"pos":160,"mid":138,"lo":109,"hi":178},{"pos":165,"mid":136,"lo":113,"hi":164},{"pos":170,"mid":137,"lo":104,"hi":159},{"pos":175,"mid":136,"lo":117,"hi":170},
      {"pos":180,"mid":135,"lo":110,"hi":158},{"pos":185,"mid":136,"lo":105,"hi":180},{"pos":190,"mid":135,"lo":115,"hi":162},{"pos":195,"mid":134,"lo":107,"hi":154},
      {"pos":200,"mid":135,"lo":113,"hi":165},{"pos":205,"mid":134,"lo":106,"hi":156},{"pos":210,"mid":133,"lo":115,"hi":175},{"pos":215,"mid":134,"lo":102,"hi":160},
      {"pos":220,"mid":133,"lo":109,"hi":153},{"pos":225,"mid":132,"lo":113,"hi":168},{"pos":230,"mid":133,"lo":103,"hi":157},{"pos":235,"mid":132,"lo":111,"hi":178},
      {"pos":240,"mid":131,"lo":96,"hi":152},{"pos":245,"mid":132,"lo":112,"hi":164},{"pos":250,"mid":131,"lo":105,"hi":156},{"pos":255,"mid":131,"lo":114,"hi":150},
      {"pos":260,"mid":130,"lo":101,"hi":170},{"pos":265,"mid":131,"lo":108,"hi":159},{"pos":270,"mid":130,"lo":97,"hi":152},{"pos":275,"mid":130,"lo":111,"hi":164},
      {"pos":280,"mid":129,"lo":104,"hi":152},{"pos":285,"mid":130,"lo":99,"hi":174},{"pos":290,"mid":129,"lo":109,"hi":156},{"pos":295,"mid":130,"lo":103,"hi":150},
      {"pos":300,"mid":129,"lo":107,"hi":159},{"pos":305,"mid":128,"lo":100,"hi":150},{"pos":310,"mid":129,"lo":111,"hi":171},{"pos":315,"mid":128,"lo":96,"hi":154},
      {"pos":320,"mid":129,"lo":105,"hi":149},{"pos":325,"mid":128,"lo":109,"hi":164},{"pos":330,"mid":127,"lo":97,"hi":151},{"pos":335,"mid":128,"lo":107,"hi":174},
      {"pos":340,"mid":127,"lo":92,"hi":148},{"pos":345,"mid":128,"lo":108,"hi":160},{"pos":350,"mid":127,"lo":101,"hi":152},{"pos":355,"mid":128,"lo":111,"hi":147},
      {"pos":360,"mid":127,"lo":98,"hi":167},{"pos":365,"mid":126,"lo":103,"hi":154},{"pos":370,"mid":127,"lo":94,"hi":149},{"pos":375,"mid":126,"lo":107,"hi":160},
      {"pos":380,"mid":127,"lo":102,"hi":150},{"pos":385,"mid":126,"lo":95,"hi":170},{"pos":390,"mid":127,"lo":107,"hi":154},{"pos":395,"mid":126,"lo":99,"hi":146},
      {"pos":400,"mid":127,"lo":105,"hi":157},{"pos":405,"mid":126,"lo":98,"hi":148},{"pos":410,"mid":127,"lo":109,"hi":169},{"pos":415,"mid":126,"lo":94,"hi":152},
      {"pos":420,"mid":127,"lo":103,"hi":147},{"pos":425,"mid":128,"lo":109,"hi":175},{"pos":430,"mid":130,"lo":100,"hi":154},{"pos":435,"mid":133,"lo":112,"hi":179},
      {"pos":440,"mid":135,"lo":100,"hi":156},{"pos":445,"mid":137,"lo":117,"hi":169},{"pos":450,"mid":140,"lo":114,"hi":165},{"pos":455,"mid":142,"lo":125,"hi":161},
      {"pos":460,"mid":144,"lo":115,"hi":184},{"pos":464,"mid":145,"lo":120,"hi":170}
    ],
    "f5": [
      {"pos":2.5,"lo":131,"hi":184},{"pos":7.5,"lo":135,"hi":188},{"pos":12.5,"lo":123,"hi":178},{"pos":17.5,"lo":132,"hi":191},{"pos":22.5,"lo":135,"hi":183},
      {"pos":27.5,"lo":124,"hi":177},{"pos":32.5,"lo":126,"hi":184},{"pos":37.5,"lo":115,"hi":176},{"pos":42.5,"lo":126,"hi":171},{"pos":47.5,"lo":127,"hi":185},
      {"pos":52.5,"lo":118,"hi":173},{"pos":57.5,"lo":120,"hi":176},{"pos":62.5,"lo":119,"hi":172},{"pos":67.5,"lo":124,"hi":177},{"pos":72.5,"lo":113,"hi":168},
      {"pos":77.5,"lo":121,"hi":180},{"pos":82.5,"lo":123,"hi":171},{"pos":87.5,"lo":114,"hi":167},{"pos":92.5,"lo":118,"hi":176},{"pos":97.5,"lo":108,"hi":169},
      {"pos":102.5,"lo":118,"hi":163},{"pos":107.5,"lo":120,"hi":178},{"pos":112.5,"lo":111,"hi":166},{"pos":117.5,"lo":113,"hi":169},{"pos":122.5,"lo":112,"hi":165},
      {"pos":127.5,"lo":117,"hi":170},{"pos":132.5,"lo":106,"hi":161},{"pos":137.5,"lo":114,"hi":173},{"pos":142.5,"lo":117,"hi":165},{"pos":147.5,"lo":108,"hi":161},
      {"pos":152.5,"lo":111,"hi":169},{"pos":157.5,"lo":102,"hi":163},{"pos":162.5,"lo":113,"hi":158},{"pos":167.5,"lo":114,"hi":172},{"pos":172.5,"lo":105,"hi":160},
      {"pos":177.5,"lo":108,"hi":164},{"pos":182.5,"lo":107,"hi":160},{"pos":187.5,"lo":112,"hi":165},{"pos":192.5,"lo":101,"hi":156},{"pos":197.5,"lo":109,"hi":168},
      {"pos":202.5,"lo":113,"hi":161},{"pos":207.5,"lo":103,"hi":156},{"pos":212.5,"lo":107,"hi":165},{"pos":217.5,"lo":98,"hi":159},{"pos":222.5,"lo":108,"hi":153},
      {"pos":227.5,"lo":110,"hi":168},{"pos":232.5,"lo":101,"hi":156},{"pos":237.5,"lo":104,"hi":160},{"pos":242.5,"lo":103,"hi":156},{"pos":247.5,"lo":108,"hi":161},
      {"pos":252.5,"lo":98,"hi":153},{"pos":257.5,"lo":105,"hi":164},{"pos":262.5,"lo":109,"hi":157},{"pos":267.5,"lo":100,"hi":153},{"pos":272.5,"lo":104,"hi":162},
      {"pos":277.5,"lo":94,"hi":155},{"pos":282.5,"lo":105,"hi":150},{"pos":287.5,"lo":107,"hi":165},{"pos":292.5,"lo":98,"hi":153},{"pos":297.5,"lo":102,"hi":158},
      {"pos":302.5,"lo":100,"hi":153},{"pos":307.5,"lo":105,"hi":158},{"pos":312.5,"lo":95,"hi":150},{"pos":317.5,"lo":103,"hi":162},{"pos":322.5,"lo":107,"hi":155},
      {"pos":327.5,"lo":97,"hi":150},{"pos":332.5,"lo":101,"hi":159},{"pos":337.5,"lo":92,"hi":153},{"pos":342.5,"lo":103,"hi":148},{"pos":347.5,"lo":105,"hi":163},
      {"pos":352.5,"lo":96,"hi":151},{"pos":357.5,"lo":100,"hi":156},{"pos":362.5,"lo":98,"hi":151},{"pos":367.5,"lo":103,"hi":156},{"pos":372.5,"lo":93,"hi":148},
      {"pos":377.5,"lo":101,"hi":160},{"pos":382.5,"lo":105,"hi":153},{"pos":387.5,"lo":96,"hi":149},{"pos":392.5,"lo":100,"hi":158},{"pos":397.5,"lo":91,"hi":152},
      {"pos":402.5,"lo":102,"hi":147},{"pos":407.5,"lo":104,"hi":162},{"pos":412.5,"lo":95,"hi":150},{"pos":417.5,"lo":99,"hi":155},{"pos":422.5,"lo":99,"hi":152},
      {"pos":427.5,"lo":106,"hi":159},{"pos":432.5,"lo":98,"hi":153},{"pos":437.5,"lo":109,"hi":168},{"pos":442.5,"lo":115,"hi":163},{"pos":447.5,"lo":108,"hi":161},
      {"pos":452.5,"lo":115,"hi":173},{"pos":457.5,"lo":110,"hi":161},{"pos":462.5,"lo":122,"hi":180}
    ]
  },
  "vconcat": [
    {
      "width": 889, "height": 290,
      "data": {"name": "samples"},
      "transform": [{"filter": "datum.sample === 'No.1'"}],
      "layer": [
        {"data": {"name": "t1"}, "mark": {"type": "line", "stroke": "#222", "strokeWidth": 24, "strokeJoin": "round", "strokeCap": "butt"},
         "encoding": {"x": {"field": "pos", "type": "quantitative", "scale": {"domain": [-219.23, 464.62], "nice": false, "zero": false}},
                      "y": {"field": "mid", "type": "quantitative", "scale": {"domain": [0, 290], "nice": false, "zero": false}}}},
        {"data": {"name": "t1"}, "mark": {"type": "rule", "stroke": "#000", "strokeWidth": 3},
         "encoding": {"x": {"field": "pos", "type": "quantitative"}, "y": {"field": "lo", "type": "quantitative"}, "y2": {"field": "hi"}}},
        {"data": {"name": "f1"}, "mark": {"type": "rule", "stroke": "#000", "strokeWidth": 2.2},
         "encoding": {"x": {"field": "pos", "type": "quantitative"}, "y": {"field": "lo", "type": "quantitative"}, "y2": {"field": "hi"}}},
        {"data": {"name": "t1"}, "mark": {"type": "line", "stroke": "#b0b0b0", "strokeWidth": 1.2, "strokeDash": [3, 9], "opacity": 0.7},
         "encoding": {"x": {"field": "pos", "type": "quantitative"}, "y": {"field": "mid", "type": "quantitative"}}},
        {"transform": [{"fold": ["left", "right"], "as": ["side", "at"]}], "mark": {"type": "rule", "stroke": "#000", "strokeWidth": 2},
         "encoding": {"x": {"field": "at", "type": "quantitative"}, "y": {"datum": 225, "type": "quantitative"}, "y2": {"datum": 15}}},
        {"transform": [{"fold": ["left", "right"], "as": ["side", "at"]}], "mark": {"type": "point", "shape": "M-1,-0.85L1,0.85M-1,0.85L1,-0.85", "size": 529, "filled": false, "stroke": "#000", "strokeWidth": 2.2, "opacity": 1},
         "encoding": {"x": {"field": "at", "type": "quantitative"}, "y": {"datum": 187, "type": "quantitative"}}},
        {"mark": {"type": "rule", "stroke": "#000", "strokeWidth": 2}, "encoding": {"x": {"field": "left", "type": "quantitative"}, "x2": {"datum": 134.6}, "y": {"datum": 187, "type": "quantitative"}}},
        {"mark": {"type": "rule", "stroke": "#000", "strokeWidth": 2}, "encoding": {"x": {"field": "left", "type": "quantitative"}, "x2": {"datum": 202.3}, "y": {"datum": 187, "type": "quantitative"}}},
        {"mark": {"type": "rule", "stroke": "#000", "strokeWidth": 2}, "encoding": {"x": {"field": "right", "type": "quantitative"}, "x2": {"datum": 284.6}, "y": {"datum": 187, "type": "quantitative"}}},
        {"mark": {"type": "rule", "stroke": "#000", "strokeWidth": 2}, "encoding": {"x": {"field": "right", "type": "quantitative"}, "x2": {"datum": 369.2}, "y": {"datum": 187, "type": "quantitative"}}},
        {"mark": {"type": "text", "text": "liquid", "align": "right", "baseline": "middle", "fontSize": 29, "dy": 1}, "encoding": {"x": {"datum": 130.8, "type": "quantitative"}, "y": {"datum": 187, "type": "quantitative"}}},
        {"mark": {"type": "text", "text": "solid", "align": "center", "baseline": "middle", "fontSize": 29, "dy": 1}, "encoding": {"x": {"datum": 246.2, "type": "quantitative"}, "y": {"datum": 187, "type": "quantitative"}}},
        {"mark": {"type": "text", "text": "liquid", "align": "left", "baseline": "middle", "fontSize": 29, "dy": 1}, "encoding": {"x": {"datum": 379.2, "type": "quantitative"}, "y": {"datum": 187, "type": "quantitative"}}},
        {"mark": {"type": "text", "align": "left", "baseline": "middle", "fontSize": 28}, "encoding": {"text": {"field": "sample", "type": "nominal"}, "x": {"datum": -202.3, "type": "quantitative"}, "y": {"datum": 102, "type": "quantitative"}}},
        {"mark": {"type": "text", "align": "left", "baseline": "middle", "fontSize": 28}, "encoding": {"text": {"field": "temp", "type": "nominal"}, "x": {"datum": -111.5, "type": "quantitative"}, "y": {"datum": 102, "type": "quantitative"}}},
        {"mark": {"type": "text", "text": "Equilibration", "align": "left", "baseline": "alphabetic", "fontSize": 33}, "encoding": {"x": {"datum": -207.7, "type": "quantitative"}, "y": {"datum": 253, "type": "quantitative"}}},
        {"mark": {"type": "text", "text": "temperature (K)", "align": "left", "baseline": "alphabetic", "fontSize": 33}, "encoding": {"x": {"datum": -207.7, "type": "quantitative"}, "y": {"datum": 209, "type": "quantitative"}}}
      ]
    },
    {
      "width": 889, "height": 205,
      "data": {"name": "samples"},
      "transform": [{"filter": "datum.sample === 'No.2'"}],
      "layer": [
        {"data": {"name": "t2"}, "mark": {"type": "line", "stroke": "#222", "strokeWidth": 24, "strokeJoin": "round", "strokeCap": "butt"},
         "encoding": {"x": {"field": "pos", "type": "quantitative", "scale": {"domain": [-219.23, 464.62], "nice": false, "zero": false}},
                      "y": {"field": "mid", "type": "quantitative", "scale": {"domain": [0, 205], "nice": false, "zero": false}}}},
        {"data": {"name": "t2"}, "mark": {"type": "rule", "stroke": "#000", "strokeWidth": 3},
         "encoding": {"x": {"field": "pos", "type": "quantitative"}, "y": {"field": "lo", "type": "quantitative"}, "y2": {"field": "hi"}}},
        {"data": {"name": "f2"}, "mark": {"type": "rule", "stroke": "#000", "strokeWidth": 2.2},
         "encoding": {"x": {"field": "pos", "type": "quantitative"}, "y": {"field": "lo", "type": "quantitative"}, "y2": {"field": "hi"}}},
        {"data": {"name": "t2"}, "mark": {"type": "line", "stroke": "#b0b0b0", "strokeWidth": 1.2, "strokeDash": [3, 9], "opacity": 0.7},
         "encoding": {"x": {"field": "pos", "type": "quantitative"}, "y": {"field": "mid", "type": "quantitative"}}},
        {"transform": [{"fold": ["left", "right"], "as": ["side", "at"]}], "mark": {"type": "rule", "stroke": "#000", "strokeWidth": 2},
         "encoding": {"x": {"field": "at", "type": "quantitative"}, "y": {"datum": 190, "type": "quantitative"}, "y2": {"datum": 8}}},
        {"transform": [{"fold": ["left", "right"], "as": ["side", "at"]}], "mark": {"type": "point", "shape": "M-1,-0.85L1,0.85M-1,0.85L1,-0.85", "size": 529, "filled": false, "stroke": "#000", "strokeWidth": 2.2, "opacity": 1},
         "encoding": {"x": {"field": "at", "type": "quantitative"}, "y": {"datum": 171, "type": "quantitative"}}},
        {"mark": {"type": "rule", "stroke": "#000", "strokeWidth": 2}, "encoding": {"x": {"field": "left", "type": "quantitative"}, "x2": {"datum": 124.6}, "y": {"datum": 171, "type": "quantitative"}}},
        {"mark": {"type": "rule", "stroke": "#000", "strokeWidth": 2}, "encoding": {"x": {"field": "left", "type": "quantitative"}, "x2": {"datum": 202.3}, "y": {"datum": 171, "type": "quantitative"}}},
        {"mark": {"type": "rule", "stroke": "#000", "strokeWidth": 2}, "encoding": {"x": {"field": "right", "type": "quantitative"}, "x2": {"datum": 287.7}, "y": {"datum": 171, "type": "quantitative"}}},
        {"mark": {"type": "rule", "stroke": "#000", "strokeWidth": 2}, "encoding": {"x": {"field": "right", "type": "quantitative"}, "x2": {"datum": 388.5}, "y": {"datum": 171, "type": "quantitative"}}},
        {"mark": {"type": "text", "text": "liquid", "align": "right", "baseline": "middle", "fontSize": 29, "dy": 1}, "encoding": {"x": {"datum": 119.2, "type": "quantitative"}, "y": {"datum": 171, "type": "quantitative"}}},
        {"mark": {"type": "text", "text": "solid", "align": "center", "baseline": "middle", "fontSize": 29, "dy": 1}, "encoding": {"x": {"datum": 246.2, "type": "quantitative"}, "y": {"datum": 171, "type": "quantitative"}}},
        {"mark": {"type": "text", "text": "liquid", "align": "left", "baseline": "middle", "fontSize": 29, "dy": 1}, "encoding": {"x": {"datum": 396.2, "type": "quantitative"}, "y": {"datum": 171, "type": "quantitative"}}},
        {"mark": {"type": "text", "align": "left", "baseline": "middle", "fontSize": 28}, "encoding": {"text": {"field": "sample", "type": "nominal"}, "x": {"datum": -203.8, "type": "quantitative"}, "y": {"datum": 83, "type": "quantitative"}}},
        {"mark": {"type": "text", "align": "left", "baseline": "middle", "fontSize": 28}, "encoding": {"text": {"field": "temp", "type": "nominal"}, "x": {"datum": -113.8, "type": "quantitative"}, "y": {"datum": 83, "type": "quantitative"}}}
      ]
    },
    {
      "width": 889, "height": 190,
      "data": {"name": "samples"},
      "transform": [{"filter": "datum.sample === 'No.3'"}],
      "layer": [
        {"data": {"name": "t3"}, "mark": {"type": "line", "stroke": "#222", "strokeWidth": 24, "strokeJoin": "round", "strokeCap": "butt"},
         "encoding": {"x": {"field": "pos", "type": "quantitative", "scale": {"domain": [-219.23, 464.62], "nice": false, "zero": false}},
                      "y": {"field": "mid", "type": "quantitative", "scale": {"domain": [0, 190], "nice": false, "zero": false}}}},
        {"data": {"name": "t3"}, "mark": {"type": "rule", "stroke": "#000", "strokeWidth": 3},
         "encoding": {"x": {"field": "pos", "type": "quantitative"}, "y": {"field": "lo", "type": "quantitative"}, "y2": {"field": "hi"}}},
        {"data": {"name": "f3"}, "mark": {"type": "rule", "stroke": "#000", "strokeWidth": 2.2},
         "encoding": {"x": {"field": "pos", "type": "quantitative"}, "y": {"field": "lo", "type": "quantitative"}, "y2": {"field": "hi"}}},
        {"data": {"name": "t3"}, "mark": {"type": "line", "stroke": "#b0b0b0", "strokeWidth": 1.2, "strokeDash": [3, 9], "opacity": 0.7},
         "encoding": {"x": {"field": "pos", "type": "quantitative"}, "y": {"field": "mid", "type": "quantitative"}}},
        {"transform": [{"fold": ["left", "right"], "as": ["side", "at"]}], "mark": {"type": "rule", "stroke": "#000", "strokeWidth": 2},
         "encoding": {"x": {"field": "at", "type": "quantitative"}, "y": {"datum": 180, "type": "quantitative"}, "y2": {"datum": 10}}},
        {"transform": [{"fold": ["left", "right"], "as": ["side", "at"]}], "mark": {"type": "point", "shape": "M-1,-0.85L1,0.85M-1,0.85L1,-0.85", "size": 529, "filled": false, "stroke": "#000", "strokeWidth": 2.2, "opacity": 1},
         "encoding": {"x": {"field": "at", "type": "quantitative"}, "y": {"datum": 160, "type": "quantitative"}}},
        {"mark": {"type": "rule", "stroke": "#000", "strokeWidth": 2}, "encoding": {"x": {"field": "left", "type": "quantitative"}, "x2": {"datum": 103.8}, "y": {"datum": 160, "type": "quantitative"}}},
        {"mark": {"type": "rule", "stroke": "#000", "strokeWidth": 2}, "encoding": {"x": {"field": "left", "type": "quantitative"}, "x2": {"datum": 193.8}, "y": {"datum": 160, "type": "quantitative"}}},
        {"mark": {"type": "rule", "stroke": "#000", "strokeWidth": 2}, "encoding": {"x": {"field": "right", "type": "quantitative"}, "x2": {"datum": 270.8}, "y": {"datum": 160, "type": "quantitative"}}},
        {"mark": {"type": "rule", "stroke": "#000", "strokeWidth": 2}, "encoding": {"x": {"field": "right", "type": "quantitative"}, "x2": {"datum": 392.3}, "y": {"datum": 160, "type": "quantitative"}}},
        {"mark": {"type": "text", "text": "liquid", "align": "right", "baseline": "middle", "fontSize": 29, "dy": 1}, "encoding": {"x": {"datum": 102.3, "type": "quantitative"}, "y": {"datum": 160, "type": "quantitative"}}},
        {"mark": {"type": "text", "text": "solid", "align": "center", "baseline": "middle", "fontSize": 29, "dy": 1}, "encoding": {"x": {"datum": 233.8, "type": "quantitative"}, "y": {"datum": 160, "type": "quantitative"}}},
        {"mark": {"type": "text", "text": "liquid", "align": "left", "baseline": "middle", "fontSize": 29, "dy": 1}, "encoding": {"x": {"datum": 398.5, "type": "quantitative"}, "y": {"datum": 160, "type": "quantitative"}}},
        {"mark": {"type": "text", "align": "left", "baseline": "middle", "fontSize": 28}, "encoding": {"text": {"field": "sample", "type": "nominal"}, "x": {"datum": -207.7, "type": "quantitative"}, "y": {"datum": 77, "type": "quantitative"}}},
        {"mark": {"type": "text", "align": "left", "baseline": "middle", "fontSize": 28}, "encoding": {"text": {"field": "temp", "type": "nominal"}, "x": {"datum": -113.8, "type": "quantitative"}, "y": {"datum": 77, "type": "quantitative"}}}
      ]
    },
    {
      "width": 889, "height": 220,
      "data": {"name": "samples"},
      "transform": [{"filter": "datum.sample === 'No.4'"}],
      "layer": [
        {"data": {"name": "t4"}, "mark": {"type": "line", "stroke": "#222", "strokeWidth": 24, "strokeJoin": "round", "strokeCap": "butt"},
         "encoding": {"x": {"field": "pos", "type": "quantitative", "scale": {"domain": [-219.23, 464.62], "nice": false, "zero": false}},
                      "y": {"field": "mid", "type": "quantitative", "scale": {"domain": [0, 220], "nice": false, "zero": false}}}},
        {"data": {"name": "t4"}, "mark": {"type": "rule", "stroke": "#000", "strokeWidth": 3},
         "encoding": {"x": {"field": "pos", "type": "quantitative"}, "y": {"field": "lo", "type": "quantitative"}, "y2": {"field": "hi"}}},
        {"data": {"name": "f4"}, "mark": {"type": "rule", "stroke": "#000", "strokeWidth": 2.2},
         "encoding": {"x": {"field": "pos", "type": "quantitative"}, "y": {"field": "lo", "type": "quantitative"}, "y2": {"field": "hi"}}},
        {"data": {"name": "t4"}, "mark": {"type": "line", "stroke": "#b0b0b0", "strokeWidth": 1.2, "strokeDash": [3, 9], "opacity": 0.7},
         "encoding": {"x": {"field": "pos", "type": "quantitative"}, "y": {"field": "mid", "type": "quantitative"}}},
        {"transform": [{"fold": ["left", "right"], "as": ["side", "at"]}], "mark": {"type": "rule", "stroke": "#000", "strokeWidth": 2},
         "encoding": {"x": {"field": "at", "type": "quantitative"}, "y": {"datum": 215, "type": "quantitative"}, "y2": {"datum": 5}}},
        {"transform": [{"fold": ["left", "right"], "as": ["side", "at"]}], "mark": {"type": "point", "shape": "M-1,-0.85L1,0.85M-1,0.85L1,-0.85", "size": 529, "filled": false, "stroke": "#000", "strokeWidth": 2.2, "opacity": 1},
         "encoding": {"x": {"field": "at", "type": "quantitative"}, "y": {"datum": 191, "type": "quantitative"}}},
        {"mark": {"type": "rule", "stroke": "#000", "strokeWidth": 2}, "encoding": {"x": {"field": "left", "type": "quantitative"}, "x2": {"datum": 82.3}, "y": {"datum": 191, "type": "quantitative"}}},
        {"mark": {"type": "rule", "stroke": "#000", "strokeWidth": 2}, "encoding": {"x": {"field": "left", "type": "quantitative"}, "x2": {"datum": 170.8}, "y": {"datum": 191, "type": "quantitative"}}},
        {"mark": {"type": "rule", "stroke": "#000", "strokeWidth": 2}, "encoding": {"x": {"field": "right", "type": "quantitative"}, "x2": {"datum": 250.8}, "y": {"datum": 191, "type": "quantitative"}}},
        {"mark": {"type": "rule", "stroke": "#000", "strokeWidth": 2}, "encoding": {"x": {"field": "right", "type": "quantitative"}, "x2": {"datum": 376.9}, "y": {"datum": 191, "type": "quantitative"}}},
        {"mark": {"type": "text", "text": "liquid", "align": "right", "baseline": "middle", "fontSize": 29, "dy": 1}, "encoding": {"x": {"datum": 80.8, "type": "quantitative"}, "y": {"datum": 191, "type": "quantitative"}}},
        {"mark": {"type": "text", "text": "solid", "align": "center", "baseline": "middle", "fontSize": 29, "dy": 1}, "encoding": {"x": {"datum": 209.2, "type": "quantitative"}, "y": {"datum": 191, "type": "quantitative"}}},
        {"mark": {"type": "text", "text": "liquid", "align": "left", "baseline": "middle", "fontSize": 29, "dy": 1}, "encoding": {"x": {"datum": 382.3, "type": "quantitative"}, "y": {"datum": 191, "type": "quantitative"}}},
        {"mark": {"type": "text", "align": "left", "baseline": "middle", "fontSize": 28}, "encoding": {"text": {"field": "sample", "type": "nominal"}, "x": {"datum": -210, "type": "quantitative"}, "y": {"datum": 75, "type": "quantitative"}}},
        {"mark": {"type": "text", "align": "left", "baseline": "middle", "fontSize": 28}, "encoding": {"text": {"field": "temp", "type": "nominal"}, "x": {"datum": -119.2, "type": "quantitative"}, "y": {"datum": 75, "type": "quantitative"}}}
      ]
    },
    {
      "width": 889, "height": 259,
      "data": {"name": "samples"},
      "transform": [{"filter": "datum.sample === 'No.5'"}],
      "layer": [
        {"data": {"name": "t5"}, "mark": {"type": "line", "stroke": "#222", "strokeWidth": 40, "strokeJoin": "round", "strokeCap": "butt"},
         "encoding": {"x": {"field": "pos", "type": "quantitative", "scale": {"domain": [-219.23, 464.62], "nice": false, "zero": false}},
                      "y": {"field": "mid", "type": "quantitative", "scale": {"domain": [0, 259], "nice": false, "zero": false}}}},
        {"data": {"name": "t5"}, "mark": {"type": "rule", "stroke": "#000", "strokeWidth": 3},
         "encoding": {"x": {"field": "pos", "type": "quantitative"}, "y": {"field": "lo", "type": "quantitative"}, "y2": {"field": "hi"}}},
        {"data": {"name": "f5"}, "mark": {"type": "rule", "stroke": "#000", "strokeWidth": 2.2},
         "encoding": {"x": {"field": "pos", "type": "quantitative"}, "y": {"field": "lo", "type": "quantitative"}, "y2": {"field": "hi"}}},
        {"data": {"name": "t5"}, "mark": {"type": "line", "stroke": "#b0b0b0", "strokeWidth": 1.2, "strokeDash": [3, 9], "opacity": 0.7},
         "encoding": {"x": {"field": "pos", "type": "quantitative"}, "y": {"field": "mid", "type": "quantitative"}}},
        {"transform": [{"fold": ["left", "right"], "as": ["side", "at"]}], "mark": {"type": "rule", "stroke": "#000", "strokeWidth": 2},
         "encoding": {"x": {"field": "at", "type": "quantitative"}, "y": {"datum": 239, "type": "quantitative"}, "y2": {"datum": 79}}},
        {"transform": [{"fold": ["left", "right"], "as": ["side", "at"]}], "mark": {"type": "point", "shape": "M-1,-0.85L1,0.85M-1,0.85L1,-0.85", "size": 529, "filled": false, "stroke": "#000", "strokeWidth": 2.2, "opacity": 1},
         "encoding": {"x": {"field": "at", "type": "quantitative"}, "y": {"datum": 226, "type": "quantitative"}}},
        {"mark": {"type": "rule", "stroke": "#000", "strokeWidth": 2}, "encoding": {"x": {"field": "left", "type": "quantitative"}, "x2": {"datum": 9.2}, "y": {"datum": 226, "type": "quantitative"}}},
        {"mark": {"type": "rule", "stroke": "#000", "strokeWidth": 2}, "encoding": {"x": {"field": "left", "type": "quantitative"}, "x2": {"datum": 157.7}, "y": {"datum": 226, "type": "quantitative"}}},
        {"mark": {"type": "rule", "stroke": "#000", "strokeWidth": 2}, "encoding": {"x": {"field": "right", "type": "quantitative"}, "x2": {"datum": 250}, "y": {"datum": 226, "type": "quantitative"}}},
        {"mark": {"type": "rule", "stroke": "#000", "strokeWidth": 2}, "encoding": {"x": {"field": "right", "type": "quantitative"}, "x2": {"datum": 461.5}, "y": {"datum": 226, "type": "quantitative"}}},
        {"mark": {"type": "text", "text": "solid", "align": "center", "baseline": "middle", "fontSize": 29, "dy": 1}, "encoding": {"x": {"datum": 206.2, "type": "quantitative"}, "y": {"datum": 226, "type": "quantitative"}}},
        {"mark": {"type": "text", "align": "left", "baseline": "middle", "fontSize": 28}, "encoding": {"text": {"field": "sample", "type": "nominal"}, "x": {"datum": -211.5, "type": "quantitative"}, "y": {"datum": 144, "type": "quantitative"}}},
        {"mark": {"type": "text", "align": "left", "baseline": "middle", "fontSize": 28}, "encoding": {"text": {"field": "temp", "type": "nominal"}, "x": {"datum": -121.5, "type": "quantitative"}, "y": {"datum": 144, "type": "quantitative"}}},
        {"data": {"values": [{"length_um": 100}]},
         "transform": [{"calculate": "330.8", "as": "x0"}, {"calculate": "datum.x0 + datum.length_um", "as": "x1"}],
         "mark": {"type": "rule", "stroke": "#000", "strokeWidth": 2.5},
         "encoding": {"x": {"field": "x0", "type": "quantitative"}, "x2": {"field": "x1"}, "y": {"datum": 46, "type": "quantitative"}}},
        {"data": {"values": [{"length_um": 100}]},
         "transform": [{"calculate": "330.8", "as": "x0"}, {"calculate": "datum.x0 + datum.length_um", "as": "x1"}, {"fold": ["x0", "x1"], "as": ["end", "at"]}],
         "mark": {"type": "rule", "stroke": "#000", "strokeWidth": 3},
         "encoding": {"x": {"field": "at", "type": "quantitative"}, "y": {"datum": 53, "type": "quantitative"}, "y2": {"datum": 39}}},
        {"data": {"values": [{"length_um": 100}]},
         "transform": [{"calculate": "330.8 + datum.length_um / 2", "as": "xm"}, {"calculate": "datum.length_um + 'μ'", "as": "label"}],
         "mark": {"type": "text", "align": "center", "baseline": "middle", "fontSize": 26},
         "encoding": {"text": {"field": "label", "type": "nominal"}, "x": {"field": "xm", "type": "quantitative"}, "y": {"datum": 21, "type": "quantitative"}}}
      ]
    }
  ]
}
